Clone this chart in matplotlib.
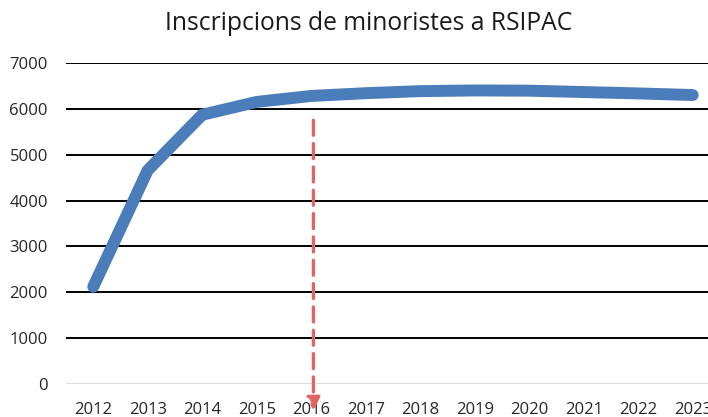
import matplotlib
matplotlib.use("Agg")
import matplotlib.pyplot as plt

years = ["2012", "2013", "2014", "2015", "2016", "2017", "2018", "2019", "2020", "2021", "2022", "2023"]
inscriptions = [2120, 4660, 5870, 6150, 6280, 6340, 6385, 6400, 6395, 6365, 6335, 6300]
yticks = [0, 1000, 2000, 3000, 4000, 5000, 6000, 7000]
marker_year = "2016"
arrow_start = 5750
arrow_end = -580

plt.rcParams['font.family'] = ['Open Sans', 'DejaVu Sans']

fig = plt.figure(figsize=(7.08, 4.17), dpi=100)
ax = fig.add_axes([0.0932, 0.0791, 0.9237, 0.770])

x = list(range(len(years)))
ax.set_xlim(-0.5, len(years) - 0.5)
ax.set_ylim(0, 7000)

for v in yticks:
    if v == 0:
        ax.axhline(v, color="#D9D9D9", lw=1.3, zorder=1)
    else:
        ax.axhline(v, color="#000000", lw=1.4, zorder=1)

ax.plot(x, inscriptions, color="#4A7DBA", lw=8.6, solid_capstyle="round",
        solid_joinstyle="round", zorder=3)

xi = years.index(marker_year)
ax.annotate("", xy=(xi + 0.04, arrow_end), xytext=(xi + 0.04, arrow_start),
            arrowprops=dict(arrowstyle="-|>", color="#E06666", lw=2.4,
                            linestyle=(0, (4.5, 2.5)), mutation_scale=19,
                            shrinkA=0, shrinkB=0),
            annotation_clip=False, zorder=4)

ax.set_xticks(x)
ax.set_xticklabels(years, fontsize=12, color="#262626")
ax.set_yticks(yticks)
ax.set_yticklabels([str(v) for v in yticks], fontsize=12, color="#262626")
ax.tick_params(axis="x", length=0, pad=13)
ax.tick_params(axis="y", length=0, pad=13)
for s in ax.spines.values():
    s.set_visible(False)

fig.text(0.52, 0.944, "Inscripcions de minoristes a RSIPAC", ha="center", va="center",
         fontsize=17.7, color="#1a1a1a")

fig.savefig("out.png", dpi=100)
